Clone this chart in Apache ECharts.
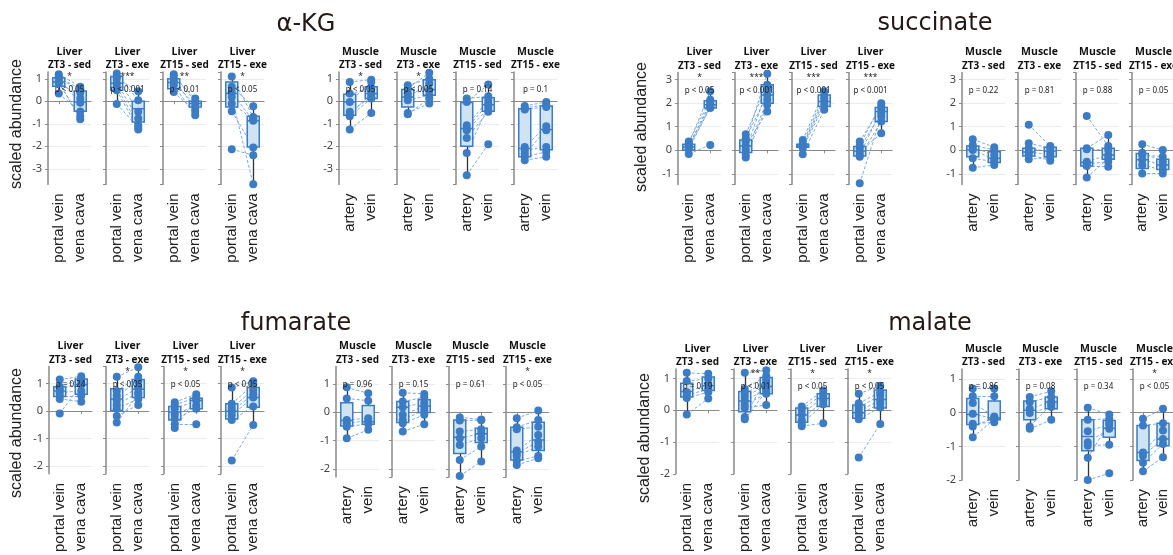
<!DOCTYPE html>
<html><head><meta charset="utf-8">
<script src="https://cdn.jsdelivr.net/npm/echarts@6/dist/echarts.min.js"></script>
<style>html,body{margin:0;padding:0;background:#fff}#c{width:1173px;height:555px}</style>
</head><body><div id="c"></div>
<script>
// ---------- categories / labels ----------
const liverCats = ['portal vein', 'vena cava'];
const muscleCats = ['artery', 'vein'];
const tissues = ['Liver', 'Liver', 'Liver', 'Liver', 'Muscle', 'Muscle', 'Muscle', 'Muscle'];
const conditions = ['ZT3 - sed', 'ZT3 - exe', 'ZT15 - sed', 'ZT15 - exe', 'ZT3 - sed', 'ZT3 - exe', 'ZT15 - sed', 'ZT15 - exe'];
const yTitle = 'scaled abundance';

// ---------- α-KG ----------
const akgA = [
  [1.2, 1.1, 1.05, 1.0, 0.9, 0.85, 0.8, 0.34],
  [1.23, 1.1, 1.0, 0.8, 0.64, 0.49, -0.12],
  [1.2, 1.1, 0.96, 0.86, 0.71, 0.41],
  [1.1, 0.64, 0.41, 0.19, -0.1, -0.44, -2.13],
  [0.86, 0.34, -0.03, -0.47, -0.58, -0.67, -1.26],
  [0.71, 0.56, 0.34, 0.19, 0.04, -0.52, -0.58],
  [0.12, -0.03, -1.07, -1.21, -1.29, -1.63, -2.3, -3.29],
  [-0.21, -0.3, -0.37, -2.03, -2.18, -2.33, -2.47, -2.62]
];
const akgB = [
  [0.65, 0.38, 0.55, -0.07, 0.12, -0.8, -0.67, -0.45],
  [0.04, -0.47, 0.45, -0.77, -1.07, -1.26, -1.17],
  [-0.03, 0.12, -0.33, -0.18, -0.62, -0.47],
  [-0.7, -0.22, -0.87, -3.69, -0.8, -2.05, -2.4],
  [0.96, 0.56, 0.86, 0.19, 0.34, 0.12, -0.52],
  [1.0, 1.27, 0.49, 0.79, 0.27, -0.1, 0.12],
  [0.22, 0.74, 0.04, -0.1, -0.33, -0.47, -0.2, -1.91],
  [-0.03, -0.15, -0.25, -1.11, -2.03, -1.29, -2.25, -2.47]
];
const akgBoxA = [
  [0.34, 0.67, 0.86, 1.04, 1.2], [-0.12, 0.49, 0.8, 1.1, 1.23], [0.41, 0.56, 0.83, 1.0, 1.2], [-0.44, -0.25, 0.35, 0.86, 1.1],
  [-1.26, -0.62, -0.03, 0.31, 0.86], [-0.58, -0.25, 0.19, 0.52, 0.71], [-3.29, -2.0, -1.21, -0.06, 0.12], [-2.62, -2.47, -2.1, -0.33, -0.21]
];
const akgBoxB = [
  [-0.8, -0.44, -0.03, 0.46, 0.65], [-1.26, -0.92, -0.33, 0.0, 0.45], [-0.62, -0.25, -0.1, 0.0, 0.12], [-3.69, -2.03, -0.87, -0.67, -0.22],
  [-0.52, 0.12, 0.34, 0.64, 0.96], [-0.1, 0.27, 0.52, 0.96, 1.27], [-0.47, -0.44, -0.15, 0.16, 0.74], [-2.47, -2.15, -1.26, -0.21, -0.03]
];
const akgStars = ['*', '***', '**', '*', '*', '*', '', ''];
const akgP = ['p < 0.05', 'p < 0.001', 'p < 0.01', 'p < 0.05', 'p < 0.05', 'p < 0.05', 'p = 0.14', 'p = 0.1'];

// ---------- succinate ----------
const sucA = [
  [0.37, 0.27, 0.2, 0.18, 0.13, 0.04, -0.16],
  [0.68, 0.51, 0.37, 0.18, 0.01, -0.2, -0.3],
  [0.44, 0.3, 0.22, 0.18, 0.09, -0.17],
  [0.37, 0.18, 0.09, -0.06, -0.2, -0.27, -1.4],
  [0.47, 0.23, 0.13, 0.01, -0.34, -0.74],
  [1.08, 0.3, 0.09, -0.06, -0.16, -0.38],
  [1.46, 0.09, 0.05, -0.48, -0.58, -0.67, -1.15],
  [0.26, -0.1, -0.2, -0.4, -0.62, -0.98]
];
const sucB = [
  [2.14, 2.5, 1.93, 2.03, 1.79, 1.86, 0.23],
  [2.78, 2.35, 3.25, 1.65, 2.57, 2.14, 1.93],
  [2.5, 2.35, 2.21, 2.07, 1.93, 1.72],
  [1.86, 2.0, 1.57, 0.72, 1.72, 1.22, 1.43],
  [0.13, 0.01, -0.2, -0.38, -0.48, -0.62],
  [0.18, 0.09, -0.06, -0.2, -0.44, -0.3],
  [0.18, 0.65, 0.01, -0.2, -0.48, -0.7, -0.35],
  [0.01, -0.48, -0.27, -0.62, -0.84, -0.98]
];
const sucBoxA = [
  [-0.16, 0.01, 0.14, 0.26, 0.37], [-0.3, -0.09, 0.18, 0.44, 0.68], [-0.17, 0.13, 0.18, 0.26, 0.44], [-0.27, -0.24, -0.03, 0.16, 0.37],
  [-0.74, -0.27, 0.01, 0.18, 0.47], [-0.4, -0.24, -0.07, 0.09, 0.3], [-1.15, -0.67, -0.52, 0.09, 0.09], [-0.98, -0.77, -0.4, -0.13, 0.26]
];
const sucBoxB = [
  [1.75, 1.79, 1.93, 2.1, 2.5], [1.65, 2.0, 2.35, 2.78, 3.25], [1.72, 1.86, 2.07, 2.35, 2.5], [0.72, 1.22, 1.65, 1.82, 2.0],
  [-0.62, -0.52, -0.34, -0.06, 0.13], [-0.44, -0.27, -0.03, 0.13, 0.18], [-0.7, -0.38, -0.2, 0.09, 0.65], [-0.98, -0.81, -0.62, -0.38, 0.01]
];
const sucStars = ['*', '***', '***', '***', '', '', '', ''];
const sucP = ['p < 0.05', 'p < 0.001', 'p < 0.001', 'p < 0.001', 'p = 0.22', 'p = 0.81', 'p = 0.88', 'p = 0.05'];

// ---------- fumarate ----------
const fumA = [
  [1.14, 0.88, 0.79, 0.67, 0.55, 0.44, -0.09],
  [1.24, 0.73, 0.55, 0.38, 0.22, 0.08, -0.18, -0.42],
  [0.32, 0.22, 0.08, -0.13, -0.29, -0.48, -0.62],
  [0.85, 0.26, 0.11, -0.01, -0.15, -0.33, -1.8],
  [0.88, 0.49, -0.27, -0.39, -0.51, -0.92],
  [0.69, 0.38, 0.18, -0.09, -0.27, -0.39, -0.68],
  [-0.18, -0.29, -0.68, -0.92, -1.15, -1.68, -2.25],
  [-0.21, -0.53, -0.6, -1.35, -1.45, -1.54, -1.72, -1.86]
];
const fumB = [
  [1.26, 1.16, 1.02, 0.73, 0.55, 0.34, 0.96],
  [1.59, 1.24, 1.08, 0.85, 0.67, 0.44, 0.22, 0.6],
  [0.61, 0.49, 0.38, 0.2, 0.08, -0.48, 0.45],
  [1.08, 0.96, 0.76, 0.61, 0.49, 0.16, -0.51],
  [0.67, 0.41, -0.21, -0.29, -0.41, -0.62],
  [0.65, 0.53, 0.34, 0.22, 0.08, -0.09, -0.42],
  [-0.25, -0.28, -0.6, -0.74, -0.92, -1.21, -1.74],
  [0.06, -0.27, -0.51, -0.8, -1.04, -1.21, -1.54, -1.62]
];
const fumBoxA = [
  [0.44, 0.53, 0.73, 0.88, 1.14], [-0.42, 0.02, 0.44, 0.81, 1.24], [-0.62, -0.33, -0.04, 0.16, 0.32], [-0.33, -0.29, -0.01, 0.26, 0.85],
  [-0.92, -0.48, -0.29, 0.34, 0.88], [-0.68, -0.36, 0.18, 0.38, 0.69], [-2.25, -1.45, -0.88, -0.27, -0.18], [-1.86, -1.68, -1.39, -0.53, -0.21]
];
const fumBoxB = [
  [0.34, 0.61, 0.96, 1.16, 1.26], [0.22, 0.49, 0.79, 1.14, 1.59], [0.08, 0.08, 0.38, 0.46, 0.61], [-0.51, 0.14, 0.49, 0.85, 1.08],
  [-0.62, -0.42, -0.33, 0.24, 0.67], [-0.42, -0.01, 0.22, 0.44, 0.65], [-1.74, -1.07, -0.76, -0.56, -0.25], [-1.62, -1.35, -0.98, -0.35, 0.06]
];
const fumStars = ['', '*', '*', '*', '', '', '', '*'];
const fumP = ['p = 0.24', 'p < 0.05', 'p < 0.05', 'p < 0.05', 'p = 0.96', 'p = 0.15', 'p = 0.61', 'p < 0.05'];

// ---------- malate ----------
const malA = [
  [1.18, 0.92, 0.57, 0.47, 0.39, -0.13],
  [1.18, 0.67, 0.52, 0.42, 0.29, 0.17, 0.07, -0.21, -0.28],
  [0.12, 0.02, -0.13, -0.31, -0.43, -0.5],
  [0.52, 0.22, 0.09, -0.03, -0.15, -0.28, -1.49],
  [0.72, 0.49, 0.29, -0.03, -0.33, -0.41, -0.73],
  [0.47, 0.32, 0.12, -0.01, -0.41, -0.48],
  [0.15, -0.21, -0.55, -0.88, -0.98, -1.34, -2.0],
  [-0.18, -0.38, -1.18, -1.28, -1.49, -1.74]
];
const malB = [
  [1.15, 0.99, 0.82, 0.67, 0.57, 0.37],
  [1.26, 1.08, 0.92, 0.79, 0.67, 0.52, 0.17, 1.0, 0.6],
  [0.62, 0.52, 0.42, 0.32, 0.19, -0.41],
  [0.77, 0.57, 0.47, 0.32, 0.22, 0.09, -0.43],
  [0.72, 0.49, -0.11, -0.18, -0.28, -0.15, -0.2],
  [0.64, 0.47, 0.32, 0.17, 0.25, -0.21],
  [-0.05, -0.18, -0.35, -0.48, -0.95, -0.3, -1.8],
  [0.12, -0.31, -0.53, -0.78, -0.93, -1.32]
];
const malBoxA = [
  [-0.13, 0.42, 0.59, 0.85, 1.18], [-0.28, -0.05, 0.29, 0.59, 1.18], [-0.5, -0.38, -0.15, 0.07, 0.12], [-0.3, -0.25, -0.08, 0.17, 0.52],
  [-0.73, -0.35, -0.05, 0.42, 0.72], [-0.48, -0.21, 0.07, 0.35, 0.47], [-2.0, -1.13, -0.71, -0.21, 0.15], [-1.74, -1.42, -1.18, -0.38, -0.15]
];
const malBoxB = [
  [0.37, 0.62, 0.77, 1.05, 1.15], [0.17, 0.52, 0.75, 1.03, 1.26], [-0.41, 0.12, 0.37, 0.52, 0.62], [-0.43, 0.07, 0.34, 0.64, 0.77],
  [-0.28, -0.21, -0.15, 0.35, 0.72], [-0.21, 0.12, 0.32, 0.47, 0.64], [-0.95, -0.73, -0.46, -0.23, -0.05], [-1.32, -0.98, -0.78, -0.31, 0.12]
];
const malStars = ['', '**', '*', '*', '', '', '', '*'];
const malP = ['p = 0.19', 'p < 0.01', 'p < 0.05', 'p < 0.05', 'p = 0.86', 'p = 0.08', 'p = 0.34', 'p < 0.05'];

// ---------- layout (positions only) ----------
const panels = [
  {name: 'α-KG', A: akgA, B: akgB, boxA: akgBoxA, boxB: akgBoxB, stars: akgStars, p: akgP,
   lay: {lefts: [48, 106, 163, 221, 339, 397, 456, 514], top: 72, height: 112.5, min: -3.7, max: 1.3, tx: 306, ty: 24.5, yx: 17, yy: 124}},
  {name: 'succinate', A: sucA, B: sucB, boxA: sucBoxA, boxB: sucBoxB, stars: sucStars, p: sucP,
   lay: {lefts: [678, 735, 792, 849, 962, 1018, 1076, 1132], top: 72.5, height: 112, min: -1.45, max: 3.3, tx: 935, ty: 23.5, yx: 642, yy: 127}},
  {name: 'fumarate', A: fumA, B: fumB, boxA: fumBoxA, boxB: fumBoxB, stars: fumStars, p: fumP,
   lay: {lefts: [49, 106, 164, 221, 336, 392, 449, 506], top: 366.4, height: 110.5, min: -2.28, max: 1.62, tx: 296, ty: 324, yx: 17, yy: 433}},
  {name: 'malate', A: malA, B: malB, boxA: malBoxA, boxB: malBoxB, stars: malStars, p: malP,
   lay: {lefts: [676, 734, 791, 848, 962, 1019, 1077, 1133], top: 369, height: 111, min: -2.0, max: 1.3, tx: 930, ty: 324, yx: 645, yy: 438}}
];

const W = 43;
const C = {dot: '#3b7cc4', box: '#3b7cc4', fill: '#cfe3f3', pair: '#6d9fd8', whisker: '#333', axis: '#8a8a8a', grid: '#ececec', text: '#222'};

const grids = [], xAxes = [], yAxes = [], series = [], graphics = [];
panels.forEach(m => {
  const L = m.lay;
  graphics.push({type: 'text', x: L.tx, y: L.ty, silent: true,
    style: {text: m.name, fontSize: 24, fontFamily: 'DejaVu Sans', fill: '#231815', textAlign: 'center', textVerticalAlign: 'middle'}});
  graphics.push({type: 'text', x: L.yx, y: L.yy, rotation: Math.PI / 2, silent: true,
    style: {text: yTitle, fontSize: 16, fontFamily: 'Liberation Sans', fill: '#222', textAlign: 'center', textVerticalAlign: 'middle'}});
  for (let k = 0; k < 8; k++) {
    const g = grids.length;
    const left = L.lefts[k];
    const cx = left + W / 2;
    const first = (k === 0 || k === 4);
    grids.push({left: left, top: L.top, width: W, height: L.height, containLabel: false});
    xAxes.push({
      type: 'category', gridIndex: g, data: k < 4 ? liverCats : muscleCats, boundaryGap: true,
      axisLine: {lineStyle: {color: C.axis, width: 1.2}},
      axisTick: {show: true, alignWithLabel: true, length: 3, lineStyle: {color: C.axis}},
      axisLabel: {rotate: 90, fontSize: 15, fontFamily: 'Liberation Sans', color: '#222', margin: 9, interval: 0},
      splitLine: {show: false}
    });
    yAxes.push({
      type: 'value', gridIndex: g, min: L.min, max: L.max, minInterval: 1, maxInterval: 1,
      axisLine: {show: true, lineStyle: {color: C.axis, width: 1.5}},
      axisTick: {show: true, length: 3, lineStyle: {color: C.axis}},
      axisLabel: {show: first, fontSize: 11, fontFamily: 'Noto Sans', color: '#444', margin: 6,
        showMinLabel: Number.isInteger(L.min), showMaxLabel: Number.isInteger(L.max)},
      splitLine: {show: true, lineStyle: {color: C.grid, width: 1}, showMinLine: false, showMaxLine: false}
    });
    const A = m.A[k], B = m.B[k];
    const n = Math.min(A.length, B.length);
    const pairs = [];
    for (let i = 0; i < n; i++) pairs.push({coords: [[0, A[i]], [1, B[i]]]});
    series.push({type: 'lines', coordinateSystem: 'cartesian2d', xAxisIndex: g, yAxisIndex: g, silent: true, z: 2,
      lineStyle: {color: C.pair, width: 1, type: [3, 2], opacity: 0.9}, data: pairs});
    const bA = m.boxA[k], bB = m.boxB[k];
    series.push({type: 'lines', coordinateSystem: 'cartesian2d', xAxisIndex: g, yAxisIndex: g, silent: true, z: 3,
      lineStyle: {color: C.whisker, width: 1.3, type: 'solid', opacity: 1},
      data: [
        {coords: [[0, bA[0]], [0, bA[1]]]}, {coords: [[0, bA[3]], [0, bA[4]]]},
        {coords: [[1, bB[0]], [1, bB[1]]]}, {coords: [[1, bB[3]], [1, bB[4]]]}
      ]});
    series.push({type: 'boxplot', xAxisIndex: g, yAxisIndex: g, silent: true, z: 4, boxWidth: [12, 12],
      itemStyle: {color: C.fill, borderColor: C.box, borderWidth: 1.5},
      data: [[bA[1], bA[1], bA[2], bA[3], bA[3]], [bB[1], bB[1], bB[2], bB[3], bB[3]]]});
    series.push({type: 'scatter', xAxisIndex: g, yAxisIndex: g, silent: true, z: 5, symbolSize: 8,
      itemStyle: {color: C.dot, opacity: 1},
      data: A.map(v => [0, v]).concat(B.map(v => [1, v]))});
    // panel header texts
    graphics.push({type: 'text', x: cx, y: L.top - 20, silent: true,
      style: {text: tissues[k], fontSize: 10.5, fontWeight: 'bold', fontFamily: 'Open Sans', fill: '#111', textAlign: 'center', textVerticalAlign: 'middle'}});
    graphics.push({type: 'text', x: cx, y: L.top - 6.5, silent: true,
      style: {text: conditions[k], fontSize: 10, fontWeight: 'bold', fontFamily: 'Open Sans', fill: '#111', textAlign: 'center', textVerticalAlign: 'middle'}});
    if (m.stars[k]) graphics.push({type: 'text', x: cx, y: L.top + 5, silent: true, z: 10,
      style: {text: m.stars[k], fontSize: 8.5, fontFamily: 'Noto Sans', fill: '#222', textAlign: 'center', textVerticalAlign: 'middle'}});
    graphics.push({type: 'text', x: cx, y: L.top + 18, silent: true, z: 10,
      style: {text: m.p[k], fontSize: 8, fontFamily: 'Noto Sans', fill: '#222', textAlign: 'center', textVerticalAlign: 'middle'}});
  }
});

const chart = echarts.init(document.getElementById('c'));
chart.setOption({
  animation: false,
  backgroundColor: '#ffffff',
  grid: grids, xAxis: xAxes, yAxis: yAxes, series: series,
  graphic: {elements: graphics}
});
</script></body></html>
